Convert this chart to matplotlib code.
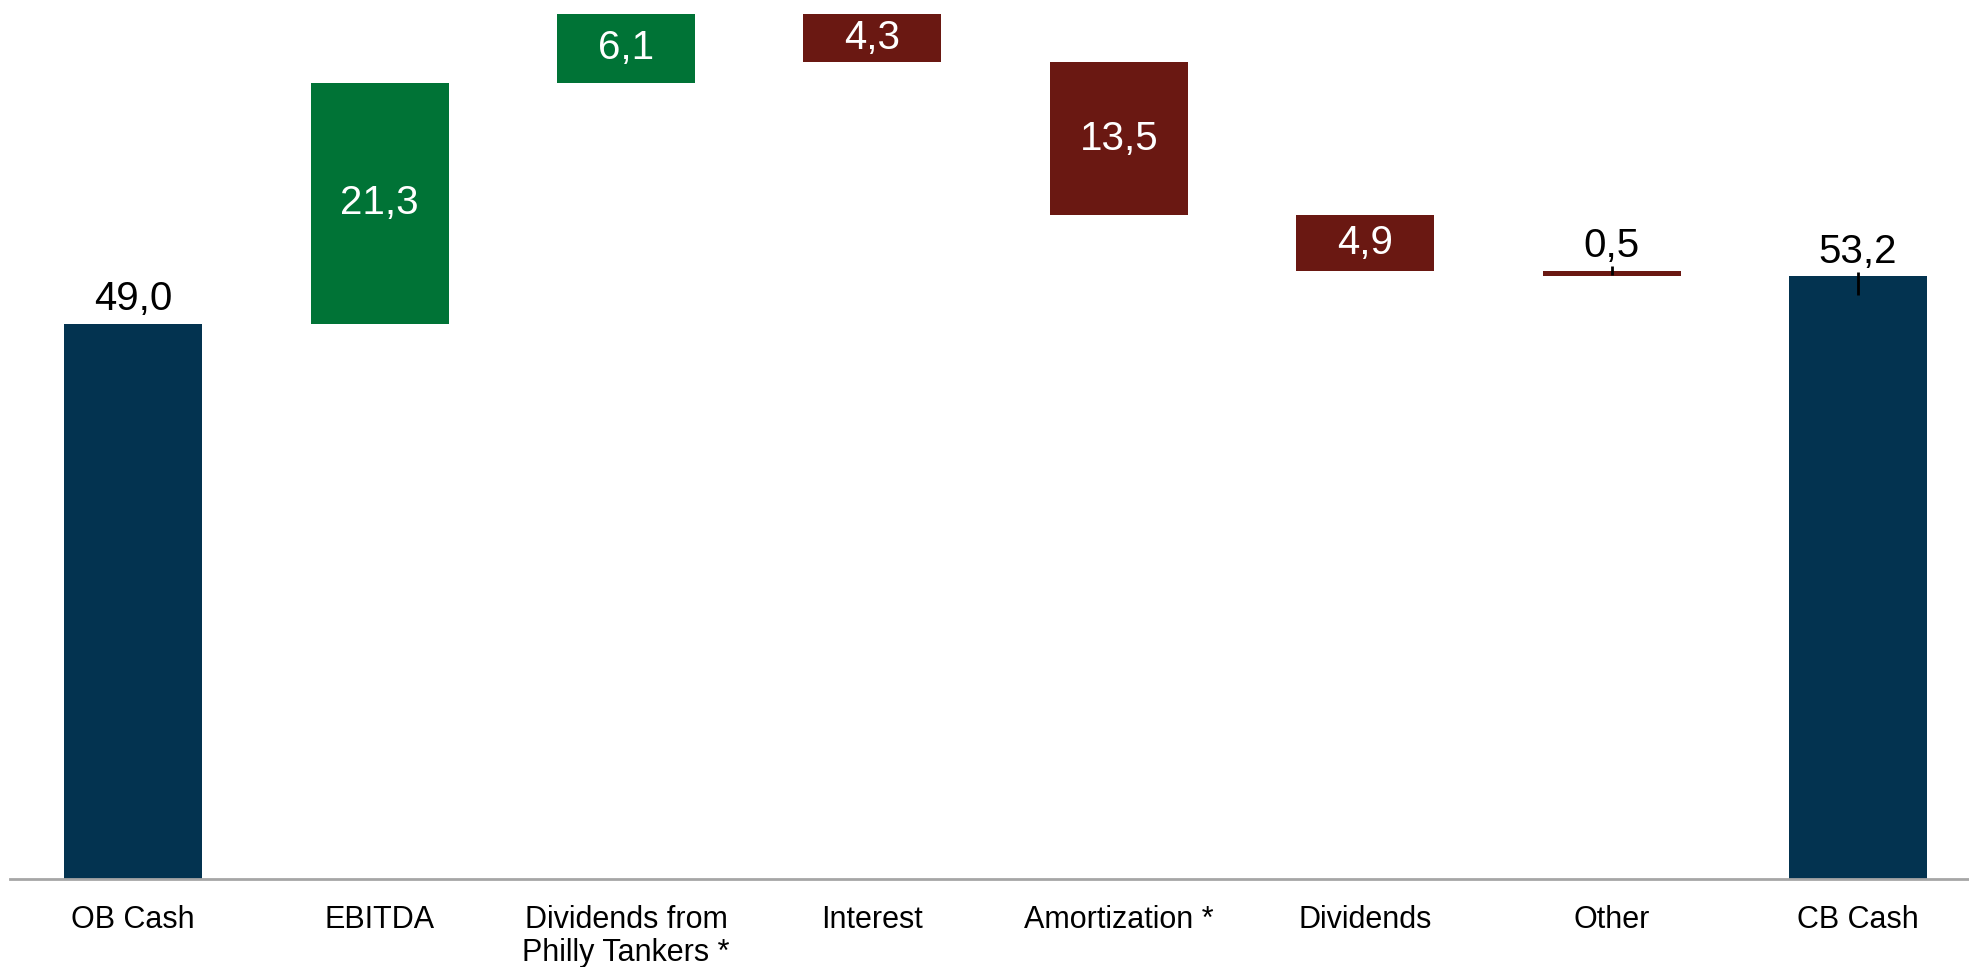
import numpy as np
import matplotlib
matplotlib.use('Agg')
import matplotlib.pyplot as plt

plt.rcParams['font.family'] = ['Liberation Sans', 'DejaVu Sans']

categories = ['OB Cash', 'EBITDA', 'Dividends from\nPhilly Tankers *', 'Interest',
              'Amortization *', 'Dividends', 'Other', 'CB Cash']
changes = [49.0, 21.3, 6.1, -4.3, -13.5, -4.9, -0.5]
total_label = ['49,0', '21,3', '6,1', '4,3', '13,5', '4,9', '0,5', '53,2']

navy = '#033350'
green = '#007336'
red = '#6a1812'

# waterfall bottoms / heights ------------------------------------------------
running = np.cumsum(changes)
end_value = running[-1]
bottoms = []
heights = []
colors = []
for i, c in enumerate(changes):
    if i == 0:
        bottoms.append(0)
        heights.append(c)
        colors.append(navy)
    else:
        prev = running[i - 1]
        bottoms.append(min(prev, prev + c))
        heights.append(abs(c))
        colors.append(green if c > 0 else red)
bottoms.append(0)
heights.append(end_value)
colors.append(navy)

fig = plt.figure(figsize=(19.69, 9.67), dpi=100)
ax = fig.add_axes([10 / 1969, 88 / 967, 1 - 10 / 1969, 1 - 88 / 967])

x_pos = np.arange(len(categories))
ax.bar(x_pos, heights, bottom=bottoms, width=0.56, color=colors, linewidth=0)

ax.set_xlim(-0.5, 7.45)
ax.set_ylim(0, 77.6)

# labels: inside for big bars, above for small / total bars
for i in range(len(categories)):
    top = bottoms[i] + heights[i]
    if i in (0, 6, 7):
        ax.annotate(total_label[i], (x_pos[i], top), xytext=(0, 4), textcoords='offset points',
                    ha='center', va='bottom', fontsize=29, color='black')
    else:
        ax.text(x_pos[i], bottoms[i] + heights[i] / 2, total_label[i], ha='center', va='center',
                fontsize=29, color='white')

# small leader ticks
ax.vlines(x_pos[6], 53.3, 54.1, color='black', linewidth=2)
ax.vlines(x_pos[7], 51.6, 53.6, color='black', linewidth=2)

for s in ['top', 'right', 'left']:
    ax.spines[s].set_visible(False)
ax.spines['bottom'].set_color('#a6a6a6')
ax.spines['bottom'].set_linewidth(2)
ax.set_yticks([])
ax.set_xticks(x_pos)
ax.set_xticklabels(categories, fontsize=22, linespacing=1.12)
ax.tick_params(axis='x', length=0, pad=19)

plt.savefig('out.png', dpi=100)
